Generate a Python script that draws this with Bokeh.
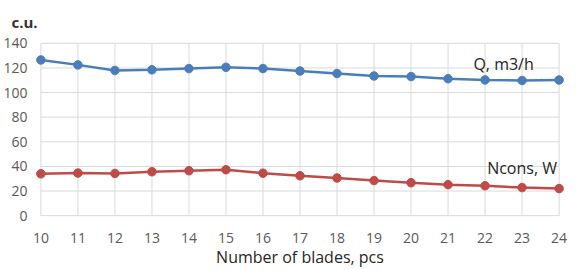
from bokeh.plotting import figure
from bokeh.models import Range1d, FixedTicker, Label
from bokeh.embed import file_html
from bokeh.resources import INLINE

blades = [10, 11, 12, 13, 14, 15, 16, 17, 18, 19, 20, 21, 22, 23, 24]
q_flow = [126.5, 122.5, 118.0, 118.5, 119.5, 120.5, 119.5, 117.5, 115.5, 113.5, 113.0, 111.3, 110.3, 109.8, 110.2]
n_cons = [34.0, 34.6, 34.3, 35.7, 36.5, 37.3, 34.5, 32.4, 30.6, 28.5, 26.8, 25.2, 24.3, 22.8, 22.0]
y_ticks = [0, 20, 40, 60, 80, 100, 120, 140]

FONT = "Open Sans"
BLUE = "#4a7ebb"
RED = "#be4b48"
GRID = "#d9d9d9"

p = figure(width=569, height=270, output_backend="svg", toolbar_location=None,
           x_range=Range1d(9.8, 24.2), y_range=Range1d(-1.5, 141.5),
           min_border_left=29, min_border_right=3, min_border_top=32, min_border_bottom=0,
           title="c.u.")
p.outline_line_color = None
p.xgrid.visible = False
p.ygrid.visible = False
p.background_fill_color = "white"
p.border_fill_color = "white"

p.title.text_font = FONT
p.title.text_font_size = "15px"
p.title.text_font_style = "bold"
p.title.text_color = "#333333"
p.title.align = "left"
p.title.offset = -22
p.title.standoff = 19

# grid lines limited to the data span
n = len(blades)
p.segment(x0=[blades[0]] * len(y_ticks), x1=[blades[-1]] * len(y_ticks), y0=y_ticks, y1=y_ticks,
          line_color=GRID, line_width=1)
p.segment(x0=blades, x1=blades, y0=[y_ticks[0]] * n, y1=[y_ticks[-1]] * n,
          line_color=GRID, line_width=1)

p.line(blades, q_flow, line_color=BLUE, line_width=2.5)
p.scatter(blades, q_flow, size=8.5, fill_color=BLUE, line_color=BLUE)
p.line(blades, n_cons, line_color=RED, line_width=2.5)
p.scatter(blades, n_cons, size=8.5, fill_color=RED, line_color=RED)

for ax in (p.xaxis, p.yaxis):
    ax.axis_line_color = None
    ax.major_tick_line_color = None
    ax.minor_tick_line_color = None
    ax.major_tick_out = 0
    ax.major_tick_in = 0
    ax.major_label_text_font = FONT
    ax.major_label_text_font_size = "14px"
    ax.major_label_text_color = "#595959"
    ax.major_label_text_line_height = 0.9

p.xaxis.ticker = FixedTicker(ticks=blades)
p.yaxis.ticker = FixedTicker(ticks=y_ticks)
p.xaxis.major_label_standoff = 15
p.yaxis.major_label_standoff = 6

p.xaxis.axis_label = "Number of blades, pcs"
p.xaxis.axis_label_text_font = FONT
p.xaxis.axis_label_text_font_size = "16px"
p.xaxis.axis_label_text_font_style = "normal"
p.xaxis.axis_label_text_color = "#262626"
p.xaxis.axis_label_text_line_height = 0.9
p.xaxis.axis_label_standoff = 0

p.add_layout(Label(x=22.5, y=123.5, text="Q, m3/h", text_font=FONT, text_font_size="16px",
                   text_color="#262626", text_align="center", text_baseline="middle"))
p.add_layout(Label(x=23.0, y=39.0, text="Ncons, W", text_font=FONT, text_font_size="16px",
                   text_color="#262626", text_align="center", text_baseline="middle"))

open("out.html", "w").write(file_html(p, INLINE))
